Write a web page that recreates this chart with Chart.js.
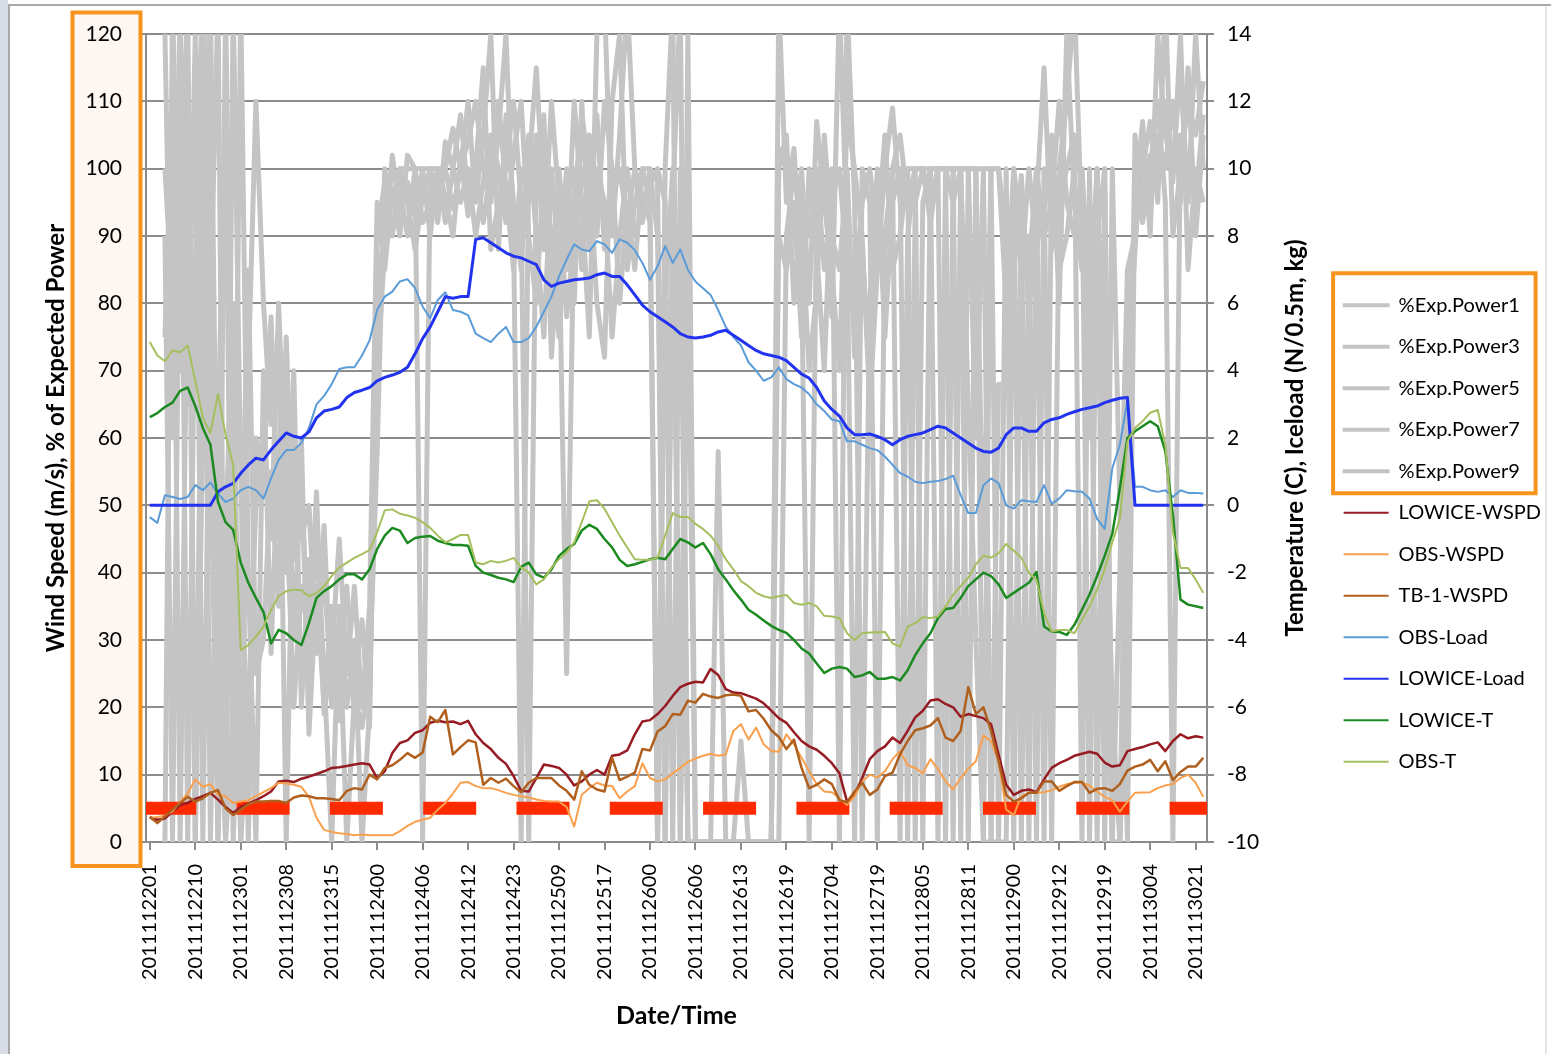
<!DOCTYPE html>
<html>
<head>
<meta charset="utf-8">
<title>Wind, power and icing</title>
<script src="https://cdn.jsdelivr.net/npm/chart.js@4.4.1/dist/chart.umd.min.js"></script>
<style>
  html, body { margin: 0; padding: 0; background: #fff; }
  #wrap { position: relative; width: 1551px; height: 1054px; }
</style>
</head>
<body>
<div id="wrap"><canvas id="chart" width="1551" height="1054"></canvas></div>
<script>
// ---- x axis: every sixth hourly record carries a date/time label ----
const tickLabels = ['2011112201','2011112210','2011112301','2011112308','2011112315','2011112400',
  '2011112406','2011112412','2011112423','2011112509','2011112517','2011112600','2011112606',
  '2011112613','2011112619','2011112704','2011112719','2011112805','2011112811','2011112900',
  '2011112912','2011112919','2011113004','2011113021'];
const labelStep = 6;

// ---- % of expected power, five turbines (left axis) ----
const power1 = [null,null,
  120,60,125,0,85,130,60,0,125,40,0,70,110,
  80,62,75,0,58,45,50,28,40,22,33,0,22,17,25,58,
  100,95,100,100,100,100,100,95,100,106,100,104,110,100,95,
  105,120,90,0,100,115,95,80,100,85,110,95,75,120,125,90,105,125,
  100,96,92,0,100,125,0,120,0,
  0,0,0,0,0,0,0,0,0,0,103,
  100,90,100,80,107,95,85,70,108,100,90,65,85,100,109,95,100,100,
  100,100,0,100,100,100,65,30,0,0,68,
  68,85,99,78,95,115,88,100,110,125,90,60,
  100,60,20,0,68,95,107,90,120,105,100,115,95,120,100];
const power3 = [null,null,
  0,125,70,110,0,95,125,30,0,125,55,0,60,
  55,78,45,65,30,55,20,47,25,0,35,20,30,0,20,80,
  92,100,97,90,100,0,100,100,92,100,108,96,100,115,88,
  95,100,110,95,0,100,108,72,90,25,95,108,100,80,72,110,120,85,
  95,100,100,90,0,95,125,0,0,
  0,0,58,0,0,0,0,0,0,0,125,
  95,103,85,0,95,100,78,125,90,0,100,95,0,90,100,0,90,100,
  0,100,100,100,100,0,100,100,100,0,0,
  0,100,0,90,0,100,0,95,100,105,0,100,
  0,100,0,40,85,90,100,107,95,125,90,100,110,105,113];
const power5 = [null,null,
  90,0,100,65,120,0,80,125,0,20,125,40,0,
  70,28,60,40,70,20,42,30,47,20,28,38,18,25,22,70,
  88,102,93,98,93,100,90,100,100,94,100,110,95,105,120,
  88,108,95,85,105,90,75,100,85,100,80,110,88,100,95,75,90,100,
  90,94,98,100,95,0,100,0,0,
  0,0,0,0,0,15,0,0,0,0,90,
  85,95,75,100,88,70,100,0,125,95,0,80,100,75,95,100,0,95,
  100,95,100,0,100,100,0,100,0,100,0,
  100,0,95,0,100,0,100,85,90,100,100,0,
  100,0,100,50,0,100,92,100,110,95,0,105,100,95,108];
const power7 = [null,null,
  75,110,0,90,70,125,0,60,110,0,35,85,25,
  30,55,35,75,42,60,16,38,20,35,18,30,24,33,17,90,
  98,90,100,95,88,96,100,92,104,100,95,100,90,98,105,
  100,92,102,110,90,80,100,90,75,95,100,85,105,90,110,100,80,95,
  85,100,95,0,80,100,0,85,0,
  0,0,0,0,0,0,0,0,0,0,100,
  105,80,95,90,100,85,95,100,85,80,95,100,90,105,85,90,100,0,
  95,100,100,100,95,100,100,60,100,100,100,
  90,95,85,100,88,95,105,80,120,95,85,95,
  90,100,0,0,30,105,95,102,100,110,98,120,85,100,95];
const power9 = [null,null,
  100,80,95,125,0,60,110,0,45,80,0,20,50,
  62,45,80,50,20,38,30,52,19,28,45,25,38,20,35,95,
  85,97,90,102,100,92,95,100,96,90,102,93,100,92,100,
  110,97,85,100,95,105,88,110,95,78,90,100,95,108,88,95,100,92,
  100,92,100,98,0,90,92,0,0,
  0,0,0,0,0,0,0,0,0,0,0,
  90,100,92,70,82,105,90,85,100,72,88,70,95,88,100,105,95,100,
  100,92,100,100,0,100,100,100,40,100,100,
  80,100,90,85,100,90,95,110,95,90,100,80,
  100,40,0,0,70,88,105,95,105,100,110,95,115,90,105];

// ---- wind speed, m/s (left axis) ----
const lowiceWspd = [3.7,3.3,3.5,4.5,5.5,5.8,6.4,6.8,7.3,6.3,
  5.2,4.3,5.2,5.7,6.2,6.8,7.5,9.0,9.1,8.9,
  9.4,9.7,10.1,10.5,11.0,11.1,11.3,11.5,11.7,11.5,
  9.5,10.5,13.2,14.7,15.1,16.2,16.6,17.7,18.0,17.8,
  17.9,17.5,18.0,16.0,14.7,13.8,12.5,11.6,9.8,7.6,
  7.5,9.5,11.5,11.3,11.0,10.0,8.4,9.0,10.0,10.7,
  10.0,12.8,13.0,13.6,16.0,17.9,18.1,19.0,20.2,21.7,
  23.0,23.5,23.8,23.7,25.7,24.8,22.7,22.2,22.1,21.7,
  21.3,20.6,19.5,18.4,17.7,16.3,15.0,14.2,13.7,12.8,
  11.7,10.2,6.0,7.0,9.5,12.3,13.5,14.2,15.5,14.7,
  16.5,18.5,19.5,21.0,21.2,20.5,20.0,18.6,19.0,18.7,
  18.4,17.5,13.0,8.5,7.0,7.6,7.8,7.4,9.3,11.0,
  11.7,12.2,12.8,13.1,13.4,13.1,11.8,11.2,11.4,13.5,
  13.8,14.1,14.5,14.8,13.5,15.0,16.0,15.4,15.7,15.5];
const obsWspd = [3.6,3.7,3.9,4.5,6.0,7.2,9.3,8.2,8.6,7.0,
  6.8,5.8,6.0,6.2,6.8,7.4,8.0,8.8,8.7,8.5,
  8.2,6.7,3.6,1.8,1.5,1.3,1.2,1.0,1.1,1.0,
  1.0,1.0,1.0,1.6,2.4,3.0,3.3,3.6,4.8,5.8,
  7.2,8.8,8.9,8.3,8.0,8.0,7.7,7.3,7.0,6.8,
  6.6,6.3,6.1,6.0,6.0,5.2,2.3,7.0,8.0,8.8,
  8.4,8.3,6.5,7.5,8.3,11.7,9.5,9.0,9.3,10.2,
  11.0,11.9,12.4,12.8,13.1,12.8,13.0,16.5,17.5,15.2,
  17.0,14.5,13.5,13.4,16.0,14.5,12.5,10.5,8.6,7.5,
  7.4,6.5,5.5,6.8,9.0,10.0,9.6,10.5,12.3,13.5,
  11.4,11.0,10.2,12.3,10.8,9.0,7.8,9.5,10.9,12.0,
  15.8,15.0,12.0,4.8,4.0,6.8,7.3,7.3,7.4,7.7,
  8.2,8.6,8.8,8.8,8.4,7.5,6.7,6.2,4.5,6.0,
  7.3,7.35,7.4,8.0,8.4,8.6,9.5,10.0,8.8,6.7];
const tb1Wspd = [3.7,2.8,3.8,4.8,5.8,6.7,6.0,6.5,7.3,7.7,
  5.0,4.0,4.8,5.6,6.0,6.0,6.1,6.1,5.8,6.6,
  6.9,6.8,6.5,6.5,6.4,6.2,7.6,8.0,7.8,10.0,
  9.3,11.0,11.4,12.2,13.2,12.5,13.3,18.6,17.8,19.6,
  13.0,14.1,15.1,14.8,8.5,9.5,8.8,9.4,8.3,7.4,
  8.8,9.5,9.5,9.5,8.4,7.6,6.3,10.5,8.5,7.8,
  7.5,12.5,9.2,9.7,10.3,13.8,13.6,16.4,17.2,19.0,
  18.9,21.0,20.7,22.0,21.6,21.4,21.8,21.9,21.7,19.4,
  19.6,18.3,16.6,15.6,13.8,15.2,11.0,8.0,8.5,9.3,
  8.6,6.2,5.9,7.5,8.8,7.0,7.8,9.8,10.3,13.0,
  15.0,16.6,16.9,17.3,18.4,15.5,15.0,16.5,23.0,19.0,
  20.0,16.5,12.0,7.0,6.0,6.5,7.3,7.3,9.0,9.0,
  7.6,8.3,8.9,8.9,7.3,7.9,8.0,7.6,8.6,10.6,
  11.2,11.5,12.2,10.5,12.0,9.2,10.4,11.2,11.2,12.5];

// ---- ice load and temperature (right axis) ----
const obsLoad = [-0.35,-0.52,0.3,0.25,0.19,0.25,0.6,0.45,0.68,0.35,
  0.1,0.2,0.45,0.55,0.45,0.2,0.8,1.35,1.64,1.64,
  1.85,2.3,3.0,3.25,3.6,4.05,4.1,4.1,4.45,4.9,
  5.8,6.2,6.35,6.65,6.72,6.45,5.9,5.56,6.1,6.33,
  5.8,5.75,5.65,5.1,4.97,4.85,5.1,5.3,4.85,4.85,
  4.97,5.3,5.75,6.2,6.8,7.3,7.75,7.6,7.55,7.85,
  7.75,7.5,7.9,7.8,7.58,7.2,6.7,7.1,7.7,7.2,
  7.6,7.0,6.65,6.45,6.25,5.8,5.3,5.0,4.75,4.25,
  4.0,3.7,3.8,4.1,3.75,3.6,3.5,3.3,3.0,2.8,
  2.55,2.5,1.9,1.9,1.8,1.7,1.64,1.45,1.2,0.96,
  0.85,0.7,0.66,0.7,0.72,0.78,0.88,0.3,-0.23,-0.23,
  0.6,0.8,0.66,0.0,-0.1,0.15,0.12,0.1,0.6,0.05,
  0.2,0.45,0.42,0.4,0.2,-0.4,-0.7,1.1,1.8,3.1,
  0.55,0.55,0.45,0.4,0.45,0.25,0.45,0.37,0.37,0.35];
const lowiceLoad = [0,0,0,0,0,0,0,0,0,0.4,
  0.55,0.65,0.95,1.2,1.4,1.35,1.65,1.9,2.15,2.05,
  2.0,2.18,2.6,2.8,2.85,2.92,3.2,3.35,3.42,3.5,
  3.7,3.8,3.87,3.95,4.1,4.5,4.95,5.3,5.75,6.2,
  6.15,6.2,6.2,7.9,7.95,7.8,7.65,7.5,7.4,7.35,
  7.25,7.15,6.7,6.5,6.6,6.65,6.7,6.72,6.75,6.85,
  6.9,6.8,6.8,6.55,6.25,5.95,5.75,5.6,5.45,5.3,
  5.1,5.0,4.97,5.0,5.05,5.15,5.2,5.05,4.9,4.75,
  4.6,4.5,4.45,4.4,4.3,4.1,3.9,3.78,3.5,3.1,
  2.85,2.65,2.3,2.1,2.1,2.12,2.05,1.95,1.8,1.95,
  2.05,2.1,2.15,2.25,2.35,2.3,2.15,2.0,1.85,1.7,
  1.6,1.58,1.7,2.1,2.3,2.3,2.2,2.2,2.45,2.55,
  2.6,2.7,2.78,2.85,2.9,2.95,3.05,3.12,3.18,3.2,
  0,0,0,0,0,0,0,0,0,0];
const lowiceT = [2.62,2.74,2.92,3.05,3.4,3.5,2.95,2.3,1.8,0.1,
  -0.5,-0.73,-1.7,-2.3,-2.75,-3.17,-4.1,-3.7,-3.8,-4.0,
  -4.15,-3.5,-2.75,-2.55,-2.4,-2.2,-2.05,-2.05,-2.2,-1.9,
  -1.3,-0.9,-0.67,-0.75,-1.12,-0.97,-0.93,-0.91,-1.05,-1.12,
  -1.18,-1.18,-1.2,-1.8,-2.0,-2.07,-2.15,-2.2,-2.28,-1.83,
  -1.7,-2.05,-2.15,-1.9,-1.5,-1.3,-1.15,-0.75,-0.58,-0.7,
  -1.0,-1.25,-1.62,-1.8,-1.75,-1.68,-1.6,-1.56,-1.6,-1.3,
  -1.0,-1.1,-1.25,-1.12,-1.45,-1.9,-2.2,-2.52,-2.8,-3.1,
  -3.25,-3.42,-3.58,-3.7,-3.79,-4.0,-4.25,-4.4,-4.7,-4.98,
  -4.85,-4.8,-4.85,-5.1,-5.05,-4.95,-5.15,-5.15,-5.1,-5.2,
  -4.9,-4.45,-4.1,-3.8,-3.35,-3.08,-3.05,-2.75,-2.4,-2.2,
  -2.0,-2.1,-2.35,-2.75,-2.6,-2.45,-2.3,-1.98,-3.6,-3.75,
  -3.76,-3.85,-3.55,-3.1,-2.65,-2.1,-1.5,-0.85,0.5,2.0,
  2.2,2.35,2.5,2.35,1.6,-0.3,-2.8,-2.95,-3.0,-3.05];
const obsT = [4.85,4.45,4.28,4.6,4.55,4.75,3.7,2.6,2.15,3.3,
  2.1,1.2,-4.3,-4.15,-3.9,-3.6,-3.1,-2.7,-2.55,-2.5,
  -2.52,-2.7,-2.6,-2.4,-2.1,-1.85,-1.7,-1.56,-1.45,-1.33,
  -0.8,-0.15,-0.12,-0.25,-0.3,-0.37,-0.5,-0.67,-0.9,-1.1,
  -1.0,-0.88,-0.88,-1.7,-1.75,-1.65,-1.7,-1.65,-1.56,-1.85,
  -2.0,-2.35,-2.2,-1.85,-1.6,-1.4,-1.1,-0.5,0.12,0.15,
  -0.1,-0.5,-0.9,-1.25,-1.6,-1.62,-1.62,-1.55,-0.9,-0.23,
  -0.35,-0.35,-0.55,-0.7,-0.9,-1.2,-1.6,-1.9,-2.25,-2.4,
  -2.6,-2.7,-2.75,-2.7,-2.66,-2.9,-2.95,-2.9,-3.0,-3.28,
  -3.3,-3.35,-3.8,-4.0,-3.8,-3.78,-3.77,-3.76,-4.1,-4.2,
  -3.6,-3.5,-3.32,-3.35,-3.3,-3.0,-2.66,-2.4,-2.15,-1.75,
  -1.5,-1.55,-1.42,-1.15,-1.35,-1.56,-2.0,-2.22,-3.2,-3.75,
  -3.7,-3.7,-3.8,-3.4,-3.0,-2.5,-1.9,-1.1,-0.4,1.9,
  2.3,2.5,2.75,2.83,1.8,-0.8,-1.86,-1.86,-2.2,-2.6];

// level of the red dashed marker line (left axis)
const markerLevel = 5;

// one category per record; only every sixth one is labelled
const categories = lowiceLoad.map((_, i) => (i % labelStep === 0 ? tickLabels[i / labelStep] : ''));

// ---- layout and style ----
const FONT = 'Lato, "Open Sans", "DejaVu Sans", sans-serif';
const PLOT = { left: 146, right: 1207, top: 34, bottom: 842 };
const PAD = { left: 28, right: 0, top: 34, bottom: 21 };
const GRID = '#8c8c8c';
const GRAY = '#c4c4c4';
const ORANGE = '#f7941e';

function line(label, data, color, width, axis, order) {
  return { label, data, borderColor: color, backgroundColor: color, borderWidth: width,
    yAxisID: axis, order, pointRadius: 0, pointHoverRadius: 0, tension: 0, fill: false,
    clip: 0, borderJoinStyle: 'round' };
}

const datasets = [
  line('%Exp.Power1', power1, GRAY, 5, 'y', 30),
  line('%Exp.Power3', power3, GRAY, 5, 'y', 31),
  line('%Exp.Power5', power5, GRAY, 5, 'y', 32),
  line('%Exp.Power7', power7, GRAY, 5, 'y', 33),
  line('%Exp.Power9', power9, GRAY, 5, 'y', 34),
  line('LOWICE-WSPD', lowiceWspd, '#961b22', 2.5, 'y', 7),
  line('OBS-WSPD', obsWspd, '#f8a04e', 2, 'y', 6),
  line('TB-1-WSPD', tb1Wspd, '#b0601e', 2.5, 'y', 5),
  line('OBS-Load', obsLoad, '#5b9bd8', 2, 'y2', 4),
  line('LOWICE-Load', lowiceLoad, '#2233f0', 3, 'y2', 3),
  line('LOWICE-T', lowiceT, '#1b8a20', 2.5, 'y2', 2),
  line('OBS-T', obsT, '#a6bf5e', 2, 'y2', 1),
  Object.assign(line('', categories.map(() => markerLevel), '#ff2a00', 13, 'y', 10), {
    borderDash: [40, 53.3], borderCapStyle: 'square', borderJoinStyle: 'miter'
  })
];

// frame, orange highlight boxes and the right-hand axis title
const decorations = {
  id: 'decorations',
  beforeDraw(chart) {
    const { ctx, width, height, chartArea: ca } = chart;
    ctx.save();
    ctx.fillStyle = '#ffffff';
    ctx.fillRect(0, 0, width, height);
    ctx.fillStyle = '#d8dde5';
    ctx.fillRect(0, 0, 8, height);
    ctx.strokeStyle = '#a8a8a8';
    ctx.lineWidth = 2;
    ctx.beginPath();
    ctx.moveTo(9, height); ctx.lineTo(9, 5); ctx.lineTo(width, 5);
    ctx.stroke();
    ctx.strokeStyle = '#e6e6e6';
    ctx.beginPath();
    ctx.moveTo(width - 5, 6); ctx.lineTo(width - 5, height);
    ctx.stroke();
    ctx.fillStyle = '#fdf6f1';
    ctx.fillRect(ca.left - 73.5, ca.top - 21.5, 68, ca.bottom - ca.top + 45.5);
    ctx.restore();
  },
  afterDraw(chart) {
    const { ctx, chartArea: ca, scales, legend } = chart;
    ctx.save();
    ctx.font = 'bold 24px ' + FONT;
    ctx.fillStyle = '#000';
    ctx.textAlign = 'center';
    ctx.textBaseline = 'middle';
    ctx.translate(scales.y2.right - 27, (ca.top + ca.bottom) / 2);
    ctx.rotate(-Math.PI / 2);
    ctx.fillText('Temperature (C), Iceload (N/0.5m, kg)', 0, 0);
    ctx.restore();

    ctx.save();
    ctx.strokeStyle = ORANGE;
    ctx.lineWidth = 4;
    ctx.strokeRect(ca.left - 73.5, ca.top - 21.5, 68, ca.bottom - ca.top + 45.5);
    const hb = legend.legendHitBoxes;
    const top = hb[0].top + hb[0].height / 2 - 32;
    const bottom = hb[4].top + hb[4].height / 2 + 22;
    ctx.strokeRect(hb[0].left - 10.5, top, 202.5, bottom - top);
    ctx.restore();
  }
};

new Chart(document.getElementById('chart'), {
  type: 'line',
  data: { labels: categories, datasets },
  plugins: [decorations],
  options: {
    responsive: false,
    animation: false,
    devicePixelRatio: 1,
    events: [],
    layout: { padding: PAD },
    plugins: {
      tooltip: { enabled: false },
      legend: {
        position: 'right',
        align: 'center',
        labels: {
          color: '#000',
          font: { family: FONT, size: 20 },
          boxWidth: 45,
          boxHeight: 2,
          padding: 21.5,
          generateLabels(chart) {
            return chart.data.datasets.map((ds, i) => ({
              text: ds.label,
              fillStyle: ds.borderColor,
              strokeStyle: ds.borderColor,
              lineWidth: ds.borderWidth >= 4 ? 2 : 0,
              hidden: false,
              datasetIndex: i,
              fontColor: '#000'
            })).filter(item => item.text);
          }
        }
      }
    },
    scales: {
      x: {
        type: 'category',
        offset: true,
        grid: { display: true, drawOnChartArea: false, drawTicks: true, tickLength: 8,
          color: GRID, lineWidth: 2, offset: false },
        border: { display: true, color: GRID, width: 2 },
        ticks: { autoSkip: false, minRotation: 90, maxRotation: 90, padding: 14,
          color: '#000', font: { family: FONT, size: 20 } },
        afterBuildTicks(scale) {
          scale.ticks = scale.ticks.filter(t => t.value % labelStep === 0);
        },
        afterFit(scale) { scale.height = scale.chart.height - PAD.bottom - PLOT.bottom; },
        title: { display: true, text: 'Date/Time', color: '#000',
          font: { family: FONT, size: 25, weight: 'bold' }, padding: { top: 0, bottom: 2 } }
      },
      y: {
        position: 'left',
        min: 0, max: 120,
        ticks: { stepSize: 10, padding: 20, color: '#000', font: { family: FONT, size: 21 } },
        grid: { color: GRID, lineWidth: 2, tickLength: 4 },
        border: { display: true, color: GRID, width: 2 },
        afterFit(scale) { scale.width = PLOT.left - PAD.left; },
        title: { display: true, text: 'Wind Speed (m/s), % of Expected Power', color: '#000',
          font: { family: FONT, size: 24, weight: 'bold' }, padding: { top: 14, bottom: 0 } }
      },
      y2: {
        position: 'right',
        min: -10, max: 14,
        ticks: { stepSize: 2, padding: 13, color: '#000', font: { family: FONT, size: 21 } },
        grid: { drawOnChartArea: false, color: GRID, lineWidth: 2, tickLength: 7 },
        border: { display: true, color: GRID, width: 2 },
        afterFit(scale) {
          const lw = scale.chart.legend ? scale.chart.legend.width : 0;
          scale.width = scale.chart.width - PAD.right - lw - PLOT.right;
        }
      }
    }
  }
});
</script>
</body>
</html>
